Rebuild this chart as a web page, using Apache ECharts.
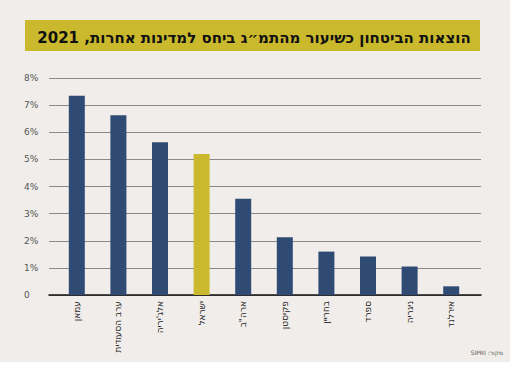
<!DOCTYPE html>
<html><head><meta charset="utf-8">
<script src="https://cdn.jsdelivr.net/npm/echarts@6/dist/echarts.min.js"></script>
<style>html,body{margin:0;padding:0;background:#ffffff;}#c{width:518px;height:378px;}</style>
</head><body><div id="c"></div>
<script>
const titleText = 'הוצאות הביטחון כשיעור מהתמ״ג ביחס למדינות אחרות, 2021';
const sourceText = 'מקור: SIPRI';
const categories = ['עמאן', 'ערב הסעודית', "אלג'יריה", 'ישראל', 'ארה"ב', 'פקיסטן', 'בחריין', 'ספרד', 'ניגריה', 'אירלנד'];
const values = [7.35, 6.63, 5.63, 5.2, 3.55, 2.13, 1.6, 1.42, 1.05, 0.32];
const highlight = 'ישראל';
const yTicks = [0, 1, 2, 3, 4, 5, 6, 7, 8];

const rtl = s => '\u202B' + s + '\u202C';
const navy = '#2f4a73', gold = '#cbb92d';
const chart = echarts.init(document.getElementById('c'), null, {renderer:'svg'});
chart.setOption({
  backgroundColor: '#ffffff',
  animation: false,
  graphic: [
    {type:'rect', shape:{x:0,y:0,width:510,height:362}, style:{fill:'#f0edea'}, z:-10},
    {type:'rect', shape:{x:25,y:20,width:455,height:31}, style:{fill:gold}, z:-5}
  ],
  title: [
    {text: rtl(titleText), left: 249, top: 25, textAlign:'center',
     textStyle:{fontFamily:'DejaVu Sans', fontWeight:'bold', fontSize:15, color:'#111'}},
    {text: rtl(sourceText), right: 10, top: 344,
     textStyle:{fontFamily:'DejaVu Sans', fontWeight:'normal', fontSize:6, color:'#555'}}
  ],
  grid: [
    {left: 49, right: 37, top: 78, bottom: 83},
    {left: 56, right: 46, top: 78, bottom: 83}
  ],
  xAxis: [
    {gridIndex:0, type:'value', min:0, max:1, show:true, axisLine:{show:true, onZero:false, lineStyle:{color:'#111', width:1.5}},
     axisTick:{show:false}, axisLabel:{show:false}, splitLine:{show:false}},
    {gridIndex:1, type:'category', data: categories, axisLine:{show:false}, axisTick:{show:false},
     axisLabel:{rotate:90, interval:0, margin:6, fontFamily:'DejaVu Sans', fontSize:9, color:'#222', formatter: s => rtl(s)}}
  ],
  yAxis: [
    {gridIndex:0, type:'value', min:0, max:8, interval:1, axisLine:{show:false}, axisTick:{show:false},
     axisLabel:{formatter: v => v === 0 ? '0' : v + '%', align:'left', margin:25, fontFamily:'DejaVu Sans', fontSize:9, color:'#555'},
     splitLine:{show:true, lineStyle:{color:'#8a8a8a', width:1}}},
    {gridIndex:1, type:'value', min:0, max:8, interval:1, show:false, splitLine:{show:false}}
  ],
  series: [{
    type:'bar', xAxisIndex:1, yAxisIndex:1, barWidth:16,
    data: values.map((v,i) => ({value:v, itemStyle:{color: categories[i] === highlight ? gold : navy}})),
    z: 5
  }]
});
</script></body></html>
